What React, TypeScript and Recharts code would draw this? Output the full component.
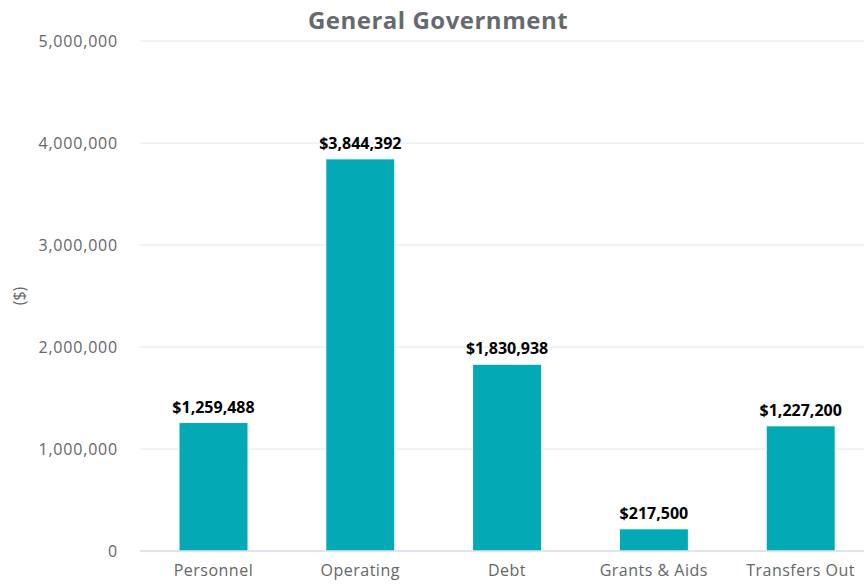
import { BarChart, Bar, XAxis, YAxis, CartesianGrid, LabelList, Label } from "recharts"

const categories = ["Personnel", "Operating", "Debt", "Grants & Aids", "Transfers Out"]
const amounts = [1259488, 3844392, 1830938, 217500, 1227200]
const yTicks = [0, 1000000, 2000000, 3000000, 4000000, 5000000]

const data = categories.map((name, i) => ({ name, amount: amounts[i] }))

const font = "'Open Sans', sans-serif"

export default function App() {
  return (
    <div style={{ position: "absolute", left: 0, top: 0, width: 864, height: 584, overflow: "hidden", background: "#fff", fontFamily: font }}>
      <div
        style={{
          position: "absolute",
          top: 4,
          left: 0,
          width: 876,
          textAlign: "center",
          fontSize: 24,
          fontWeight: 700,
          color: "#666a70",
          lineHeight: "32px",
          letterSpacing: 0.5,
        }}
      >
        General Government
      </div>
      <BarChart
        width={876}
        height={584}
        data={data}
        margin={{ top: 41, right: 2, left: 0, bottom: 0 }}
        barSize={69}
      >
        <CartesianGrid vertical={false} stroke="#e6e6e6" />
        <XAxis
          dataKey="name"
          height={33}
          axisLine={{ stroke: "#ccd6eb" }}
          tickLine={false}
          tickSize={0}
          tickMargin={14}
          tick={{ fontSize: 16, fill: "#666666", fontFamily: font, letterSpacing: 0.5 }}
          interval={0}
        />
        <YAxis
          width={140}
          domain={[0, 5000000]}
          ticks={yTicks}
          axisLine={false}
          tickLine={false}
          tickSize={0}
          tickMargin={22}
          tick={{ fontSize: 16, fill: "#666666", fontFamily: font, letterSpacing: 0.8 }}
          tickFormatter={(v: number) => v.toLocaleString("en-US")}
        >
          <Label
            value="($)"
            angle={-90}
            position="insideLeft"
            offset={19}
            style={{ fontSize: 16, fill: "#666666", fontFamily: font, textAnchor: "middle" }}
          />
        </YAxis>
        <Bar dataKey="amount" fill="#03a9b4" stroke="#ffffff" strokeWidth={1} isAnimationActive={false}>
          <LabelList
            dataKey="amount"
            position="top"
            offset={10}
            formatter={(v: number) => `$${v.toLocaleString("en-US")}`}
            style={{ fontSize: 16, fontWeight: 700, fill: "#000000", fontFamily: font }}
          />
        </Bar>
      </BarChart>
    </div>
  )
}
